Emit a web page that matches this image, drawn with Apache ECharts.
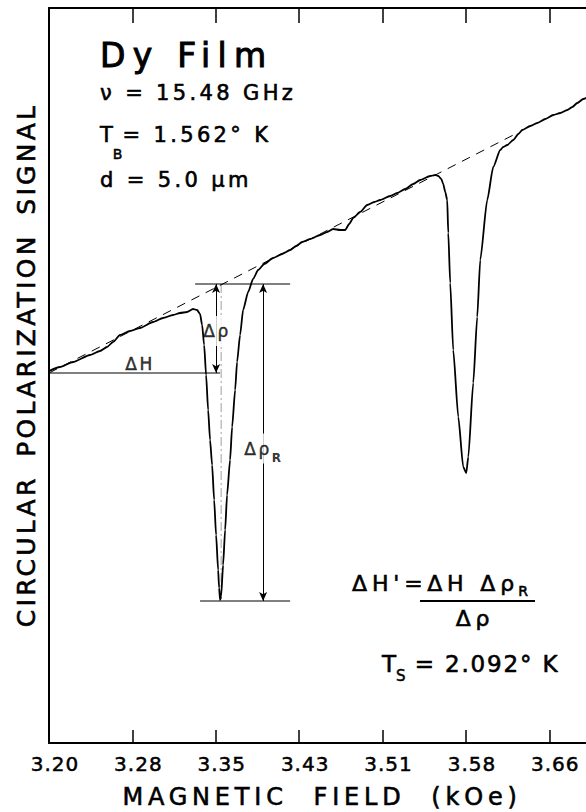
<!DOCTYPE html>
<html>
<head>
<meta charset="utf-8">
<script src="https://cdn.jsdelivr.net/npm/echarts@6/dist/echarts.min.js"></script>
<style>
html,body{margin:0;padding:0;background:#fff;}
#chart{width:586px;height:812px;}
#chart text{letter-spacing:0.1em;}
#chart text[style*="33px"]{letter-spacing:0.22em;}
#chart text[style*="21px"]{letter-spacing:0.16em;}
#chart text[style*="22px"]{letter-spacing:0.22em;}
#chart text[style*="23px"]{letter-spacing:0.08em;}
#chart text[style*="20px"]{letter-spacing:0.05em;}
#chart text[style*="24px"]{letter-spacing:0.2em;word-spacing:0.56em;}
#chart text[style*="25px"]{letter-spacing:0.13em;word-spacing:0.3em;}
#chart text[style*="17px"]{letter-spacing:0.15em;}
</style>
</head>
<body>
<div id="chart"></div>
<script>
// ---- axis ticks ----
const tickValues = [3.2000, 3.2775, 3.3550, 3.4325, 3.5100, 3.5875, 3.6650];
const tickLabels = ['3.20', '3.28', '3.35', '3.43', '3.51', '3.58', '3.66'];

// ---- recorded trace: magnetic field (kOe) vs circular polarization signal (arb. units) ----
const fieldKOe = [
  3.2000, 3.2102, 3.2223, 3.2381, 3.2474, 3.2539, 3.2595, 3.2660, 3.2753, 3.2846,
  3.2967, 3.3060, 3.3153, 3.3218, 3.3283, 3.3339, 3.3376, 3.3404, 3.3423, 3.3442,
  3.3460, 3.3479, 3.3497, 3.3516, 3.3535, 3.3553, 3.3572, 3.3581, 3.3590, 3.3600,
  3.3618, 3.3637, 3.3655, 3.3683, 3.3702, 3.3730, 3.3748, 3.3776, 3.3804, 3.3851,
  3.3897, 3.3944, 3.4000, 3.4083, 3.4167, 3.4241, 3.4297, 3.4353, 3.4427, 3.4520,
  3.4585, 3.4641, 3.4706, 3.4753, 3.4790, 3.4827, 3.4892, 3.4957, 3.5023, 3.5078,
  3.5171, 3.5236, 3.5311, 3.5385, 3.5450, 3.5543, 3.5590, 3.5618, 3.5646, 3.5664,
  3.5683, 3.5701, 3.5711, 3.5729, 3.5757, 3.5804, 3.5850, 3.5878, 3.5897, 3.5943,
  3.5980, 3.6008, 3.6073, 3.6129, 3.6194, 3.6222, 3.6259, 3.6315, 3.6362, 3.6399,
  3.6473, 3.6538, 3.6613, 3.6687, 3.6752, 3.6817, 3.6864, 3.6910, 3.6966, 3.7050
];
const signal = [
  372, 376, 381, 388, 392, 396, 401, 408, 412, 415,
  421, 425, 428, 430, 431, 434, 433, 429, 418, 398,
  368, 333, 303, 278, 243, 208, 173, 155, 143, 147,
  178, 213, 248, 283, 316, 353, 381, 408, 433, 451,
  464, 473, 479, 485, 489, 493, 497, 501, 504, 508,
  511, 514, 513, 513, 519, 525, 531, 538, 541, 543,
  547, 550, 554, 559, 563, 567, 568, 567, 564, 559,
  551, 543, 510, 460, 393, 326, 276, 270, 286, 360,
  426, 483, 543, 576, 593, 596, 598, 603, 609, 613,
  617, 620, 624, 628, 630, 633, 636, 640, 644, 649
];

// ---- dashed extrapolated baseline ----
const baselineField = [3.2000, 3.6334];
const baselineSignal = [370, 609];

// ---- construction lines for the first resonance ----
const refTopField = [3.3358, 3.4241];
const refTopSignal = 459;
const refBottomField = [3.3404, 3.4241];
const refBottomSignal = 142;
const deltaHField = [3.2000, 3.3590];
const deltaHSignal = 370;
const centerField = 3.3600;
const drhoArrowField = 3.3553;
const drhoRArrowField = 3.3990;

// ---- annotation label anchors ----
const annotationNames = ['ΔH', 'Δρ', 'ΔρR'];
const annotationField = [3.2846, 3.3562, 3.4000];
const annotationSignal = [379, 412, 294.5];

const FIELD_MIN = 3.20, FIELD_MAX = 3.74;
const SIGNAL_MIN = 0, SIGNAL_MAX = 735;
const TOP_TICK_LEN = 15; // in signal units (frame tick length)
const FONT = '"DejaVu Sans", sans-serif';
const INK = '#000';

const pairs = (xs, ys) => xs.map((x, i) => [x, ys[i]]);
const nearestLabel = (v) => {
  let best = 0;
  tickValues.forEach((t, i) => { if (Math.abs(t - v) < Math.abs(tickValues[best] - v)) best = i; });
  return tickLabels[best];
};

const thin = { color: INK, width: 1 };
const bolden = (w) => ({ textBorderColor: INK, textBorderWidth: w });

const labelFormats = {
  'ΔH': '{m|ΔH}',
  'Δρ': '{m|Δρ}',
  'ΔρR': '{m|Δρ}{s|R}'
};

const chart = echarts.init(document.getElementById('chart'), null, { renderer: 'svg' });

chart.setOption({
  backgroundColor: '#fff',
  animation: false,
  grid: { left: 49, top: 8, width: 581, height: 735, containLabel: false, outerBoundsMode: 'none' },
  xAxis: [
    {
      type: 'value', min: FIELD_MIN, max: FIELD_MAX, position: 'bottom',
      name: 'MAGNETIC FIELD (kOe)', nameLocation: 'middle', nameGap: 42,
      nameTextStyle: Object.assign({ fontSize: 24, fontFamily: FONT, color: INK, padding: [0, 35, 0, 0] }, bolden(0.6)),
      axisLine: { show: true, onZero: false, lineStyle: { color: INK, width: 2 } },
      axisTick: { show: true, inside: true, length: 13, customValues: tickValues, lineStyle: { color: INK, width: 1.5 } },
      axisLabel: Object.assign({
        show: true, customValues: tickValues, margin: 11, fontSize: 20, fontFamily: FONT, color: INK,
        padding: [0, 0, 0, 12], formatter: (v) => nearestLabel(v)
      }, bolden(0.5)),
      splitLine: { show: false }
    },
    {
      type: 'value', min: FIELD_MIN, max: FIELD_MAX, position: 'top',
      axisLine: { show: true, onZero: false, lineStyle: { color: INK, width: 2 } },
      axisTick: { show: false },
      axisLabel: { show: false },
      splitLine: { show: false }
    }
  ],
  yAxis: {
    type: 'value', min: SIGNAL_MIN, max: SIGNAL_MAX,
    name: 'CIRCULAR POLARIZATION SIGNAL', nameLocation: 'middle', nameGap: 10,
    nameTextStyle: Object.assign({ fontSize: 25, fontFamily: FONT, color: INK, padding: [0, 0, 0, 21] }, bolden(0.6)),
    axisLine: { show: true, onZero: false, lineStyle: { color: INK, width: 2 } },
    axisTick: { show: false },
    axisLabel: { show: false },
    splitLine: { show: false }
  },
  series: [
    {
      name: 'baseline', type: 'line', symbol: 'none', silent: true, z: 2,
      data: pairs(baselineField, baselineSignal),
      lineStyle: { color: INK, width: 1, type: [9, 7] }
    },
    {
      name: 'signal', type: 'line', symbol: 'none', silent: true, z: 3,
      smooth: 0.2, smoothMonotone: 'x',
      data: pairs(fieldKOe, signal),
      lineStyle: { color: INK, width: 1.8 }
    },
    {
      name: 'refTop', type: 'line', symbol: 'none', silent: true, z: 2,
      data: refTopField.map(x => [x, refTopSignal]), lineStyle: thin,
      markLine: {
        // tick marks hanging from the top frame
        silent: true, symbol: 'none', label: { show: false },
        lineStyle: { color: INK, width: 1.5, type: 'solid' },
        data: tickValues.map(v => [{ coord: [v, SIGNAL_MAX] }, { coord: [v, SIGNAL_MAX - TOP_TICK_LEN] }])
      }
    },
    {
      name: 'refBottom', type: 'line', symbol: 'none', silent: true, z: 2,
      data: refBottomField.map(x => [x, refBottomSignal]), lineStyle: thin
    },
    {
      name: 'centre', type: 'line', symbol: 'none', silent: true, z: 1,
      data: [[centerField, refTopSignal], [centerField, refBottomSignal]],
      lineStyle: { color: '#888', width: 0.8, type: [9, 3, 2, 3] }
    },
    {
      name: 'deltaH', type: 'line', symbol: 'none', silent: true, z: 2,
      data: deltaHField.map(x => [x, deltaHSignal]), lineStyle: thin,
      markLine: {
        silent: true, symbol: ['arrow', 'arrow'], symbolSize: [6, 9],
        label: { show: false },
        lineStyle: { color: INK, width: 1, type: 'solid' },
        data: [
          [{ coord: [drhoArrowField, refTopSignal] }, { coord: [drhoArrowField, deltaHSignal] }],
          [{ coord: [drhoRArrowField, refTopSignal] }, { coord: [drhoRArrowField, refBottomSignal] }]
        ]
      }
    },
    {
      name: 'labels', type: 'scatter', symbolSize: 0, silent: true, z: 6,
      data: annotationNames.map((n, i) => ({
        name: n,
        value: [annotationField[i], annotationSignal[i]],
        label: { backgroundColor: n === 'ΔH' ? 'transparent' : '#fff' }
      })),
      label: {
        show: true, position: 'inside',
        formatter: (p) => labelFormats[p.name],
        padding: [0, 1],
        rich: {
          m: Object.assign({ fontSize: 17, fontFamily: FONT, color: INK, lineHeight: 30, verticalAlign: 'middle' }, bolden(0.5)),
          s: { fontSize: 12, fontFamily: FONT, color: INK, lineHeight: 12, verticalAlign: 'bottom', fontWeight: 'bold', padding: [0, 0, 0, 3] }
        }
      }
    }
  ],
  graphic: [
    { type: 'text', silent: true, style: { x: 100, y: 55, text: 'Dy Film', fontSize: 33, fontFamily: FONT, fill: INK, stroke: INK, lineWidth: 1, align: 'left', verticalAlign: 'middle' } },
    { type: 'text', silent: true, style: { x: 100, y: 92.5, text: 'ν = 15.48 GHz', fontSize: 21, fontFamily: FONT, fill: INK, stroke: INK, lineWidth: 0.6, align: 'left', verticalAlign: 'middle' } },
    { type: 'text', silent: true, style: {
        x: 100, y: 134.5, text: '{m|T}{s|B}{m|= 1.562° K}', align: 'left', verticalAlign: 'middle', fill: INK,
        rich: {
          m: { fontSize: 21, fontFamily: FONT, fill: INK, stroke: INK, lineWidth: 0.6, lineHeight: 52, verticalAlign: 'middle' },
          s: { fontSize: 14, fontFamily: FONT, fill: INK, stroke: INK, lineWidth: 0.5, lineHeight: 22, verticalAlign: 'bottom' }
        } } },
    { type: 'text', silent: true, style: { x: 100, y: 180, text: 'd = 5.0 μm', fontSize: 21, fontFamily: FONT, fill: INK, stroke: INK, lineWidth: 0.6, align: 'left', verticalAlign: 'middle' } },
    { type: 'text', silent: true, style: { x: 352, y: 583, text: "ΔH'=", fontSize: 22, fontFamily: FONT, fill: INK, stroke: INK, lineWidth: 0.6, align: 'left', verticalAlign: 'middle' } },
    { type: 'text', silent: true, style: {
        x: 484, y: 583, text: '{m|ΔH Δρ}{s|R}', align: 'center', verticalAlign: 'middle', fill: INK,
        rich: {
          m: { fontSize: 22, fontFamily: FONT, fill: INK, stroke: INK, lineWidth: 0.6, lineHeight: 30, verticalAlign: 'middle' },
          s: { fontSize: 14, fontFamily: FONT, fill: INK, stroke: INK, lineWidth: 0.6, lineHeight: 24, verticalAlign: 'bottom', padding: [0, 0, 0, 12] }
        } } },
    { type: 'line', silent: true, shape: { x1: 420, y1: 601, x2: 535, y2: 601 }, style: { stroke: INK, lineWidth: 1.8 } },
    { type: 'text', silent: true, style: { x: 475, y: 618.5, text: 'Δρ', fontSize: 22, fontFamily: FONT, fill: INK, stroke: INK, lineWidth: 0.6, align: 'center', verticalAlign: 'middle' } },
    { type: 'text', silent: true, style: {
        x: 382, y: 663.5, text: '{m|T}{s|S}{m| = 2.092° K}', align: 'left', verticalAlign: 'middle', fill: INK,
        rich: {
          m: { fontSize: 23, fontFamily: FONT, fill: INK, stroke: INK, lineWidth: 0.6, lineHeight: 40, verticalAlign: 'middle' },
          s: { fontSize: 15, fontFamily: FONT, fill: INK, stroke: INK, lineWidth: 0.5, lineHeight: 23, verticalAlign: 'bottom' }
        } } }
  ]
});
</script>
</body>
</html>
